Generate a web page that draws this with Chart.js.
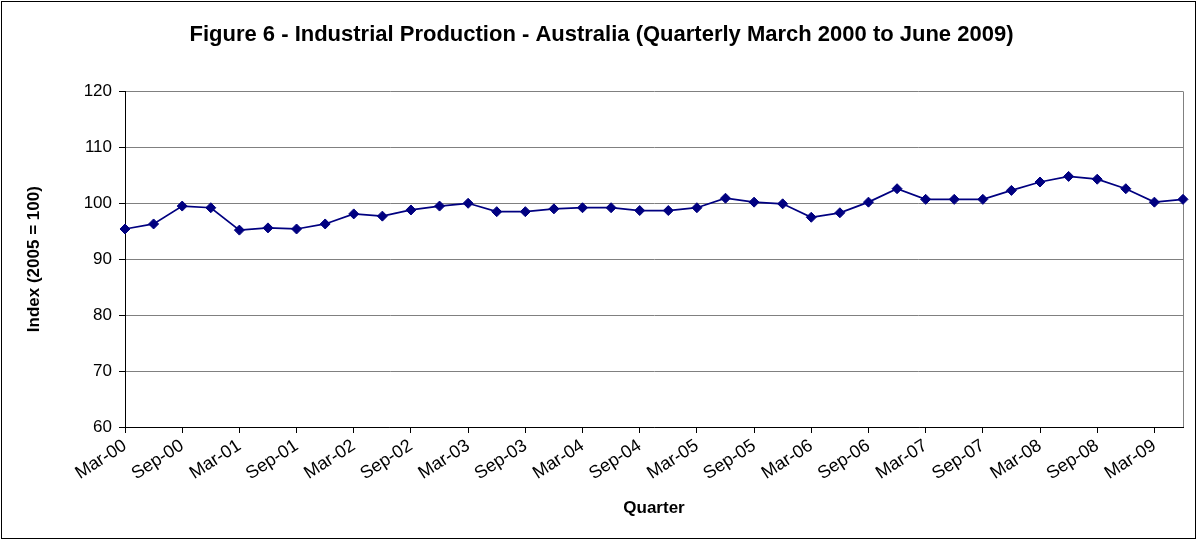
<!DOCTYPE html>
<html>
<head>
<meta charset="utf-8">
<script src="https://cdn.jsdelivr.net/npm/chart.js@4.4.1/dist/chart.umd.min.js"></script>
<style>
  html, body { margin: 0; padding: 0; background: #fff; }
  #wrap { width: 1197px; height: 540px; position: relative; }
</style>
</head>
<body>
<div id="wrap"><canvas id="c" width="1197" height="540"></canvas></div>
<script>
const quarters = [
  'Mar-00','Jun-00','Sep-00','Dec-00',
  'Mar-01','Jun-01','Sep-01','Dec-01',
  'Mar-02','Jun-02','Sep-02','Dec-02',
  'Mar-03','Jun-03','Sep-03','Dec-03',
  'Mar-04','Jun-04','Sep-04','Dec-04',
  'Mar-05','Jun-05','Sep-05','Dec-05',
  'Mar-06','Jun-06','Sep-06','Dec-06',
  'Mar-07','Jun-07','Sep-07','Dec-07',
  'Mar-08','Jun-08','Sep-08','Dec-08',
  'Mar-09','Jun-09'
];
const indexValues = [
  95.4, 96.3, 99.5, 99.2,
  95.2, 95.6, 95.4, 96.3,
  98.1, 97.7, 98.8, 99.5,
  100.0, 98.5, 98.5, 99.0,
  99.2, 99.2, 98.7, 98.7,
  99.2, 100.9, 100.2, 99.9,
  97.5, 98.3, 100.2, 102.6,
  100.7, 100.7, 100.7, 102.3,
  103.8, 104.8, 104.3, 102.6,
  100.2, 100.7
];
const yTicks = [60, 70, 80, 90, 100, 110, 120];

const FONT = "'Liberation Sans', Arial, sans-serif";

const framePlugin = {
  id: 'frame',
  beforeDraw(chart) {
    const ctx = chart.ctx;
    ctx.save();
    ctx.fillStyle = '#fff';
    ctx.fillRect(0, 0, chart.width, chart.height);
    ctx.restore();
  },
  beforeDatasetsDraw(chart) {
    const ctx = chart.ctx, a = chart.chartArea;
    ctx.save();
    ctx.strokeStyle = '#808080';
    ctx.lineWidth = 1;
    ctx.beginPath();
    ctx.moveTo(Math.round(a.right) + 0.5, a.top);
    ctx.lineTo(Math.round(a.right) + 0.5, a.bottom);
    ctx.stroke();
    ctx.restore();
  },
  afterDraw(chart) {
    const ctx = chart.ctx;
    ctx.save();
    ctx.strokeStyle = '#000';
    ctx.lineWidth = 1;
    ctx.strokeRect(1.5, 1.5, chart.width - 3, chart.height - 3);
    ctx.restore();
  }
};

new Chart(document.getElementById('c'), {
  type: 'line',
  data: {
    labels: quarters,
    datasets: [{
      data: indexValues,
      borderColor: '#000080',
      backgroundColor: '#000080',
      borderWidth: 1.75,
      pointStyle: 'rectRot',
      pointRadius: 5,
      pointBackgroundColor: '#000080',
      pointBorderColor: '#000080',
      pointBorderWidth: 1,
      tension: 0,
      fill: false
    }]
  },
  options: {
    responsive: false,
    animation: false,
    devicePixelRatio: 1,
    layout: { padding: { left: 20, right: 14, top: 0, bottom: 10 } },
    plugins: {
      legend: { display: false },
      tooltip: { enabled: false },
      title: {
        display: true,
        text: 'Figure 6 - Industrial Production - Australia (Quarterly March 2000 to June 2009)',
        color: '#000',
        font: { family: FONT, size: 22, weight: 'bold' },
        padding: { top: 22, bottom: 43 }
      }
    },
    scales: {
      x: {
        type: 'category',
        offset: false,
        afterFit(scale) { scale.height = 103; },
        grid: {
          drawOnChartArea: false,
          drawTicks: true,
          tickLength: 6,
          tickColor: (c) => (c.index % 2 === 0 ? '#000' : 'rgba(0,0,0,0)'),
          color: 'rgba(0,0,0,0)'
        },
        border: { color: '#000', width: 1 },
        ticks: {
          autoSkip: false,
          maxRotation: 33,
          minRotation: 33,
          color: '#000',
          padding: 2,
          font: { family: FONT, size: 18 },
          callback: function (v, i) { return i % 2 === 0 ? quarters[i] : ''; }
        },
        title: {
          display: true,
          text: 'Quarter',
          color: '#000',
          font: { family: FONT, size: 17, weight: 'bold' },
          padding: { top: 0, bottom: 11 }
        }
      },
      y: {
        min: 60,
        max: 120,
        afterFit(scale) { scale.width = 105; },
        afterBuildTicks(scale) { scale.ticks = yTicks.map(v => ({ value: v })); },
        grid: {
          color: '#808080',
          tickColor: '#000',
          tickLength: 6,
          lineWidth: 1
        },
        border: { color: '#000', width: 1 },
        ticks: {
          color: '#000',
          padding: 7,
          font: { family: FONT, size: 17 }
        },
        title: {
          display: true,
          text: 'Index (2005 = 100)',
          color: '#000',
          font: { family: FONT, size: 17, weight: 'bold' },
          padding: { top: 4, bottom: 0 }
        }
      }
    }
  },
  plugins: [framePlugin]
});
</script>
</body>
</html>
